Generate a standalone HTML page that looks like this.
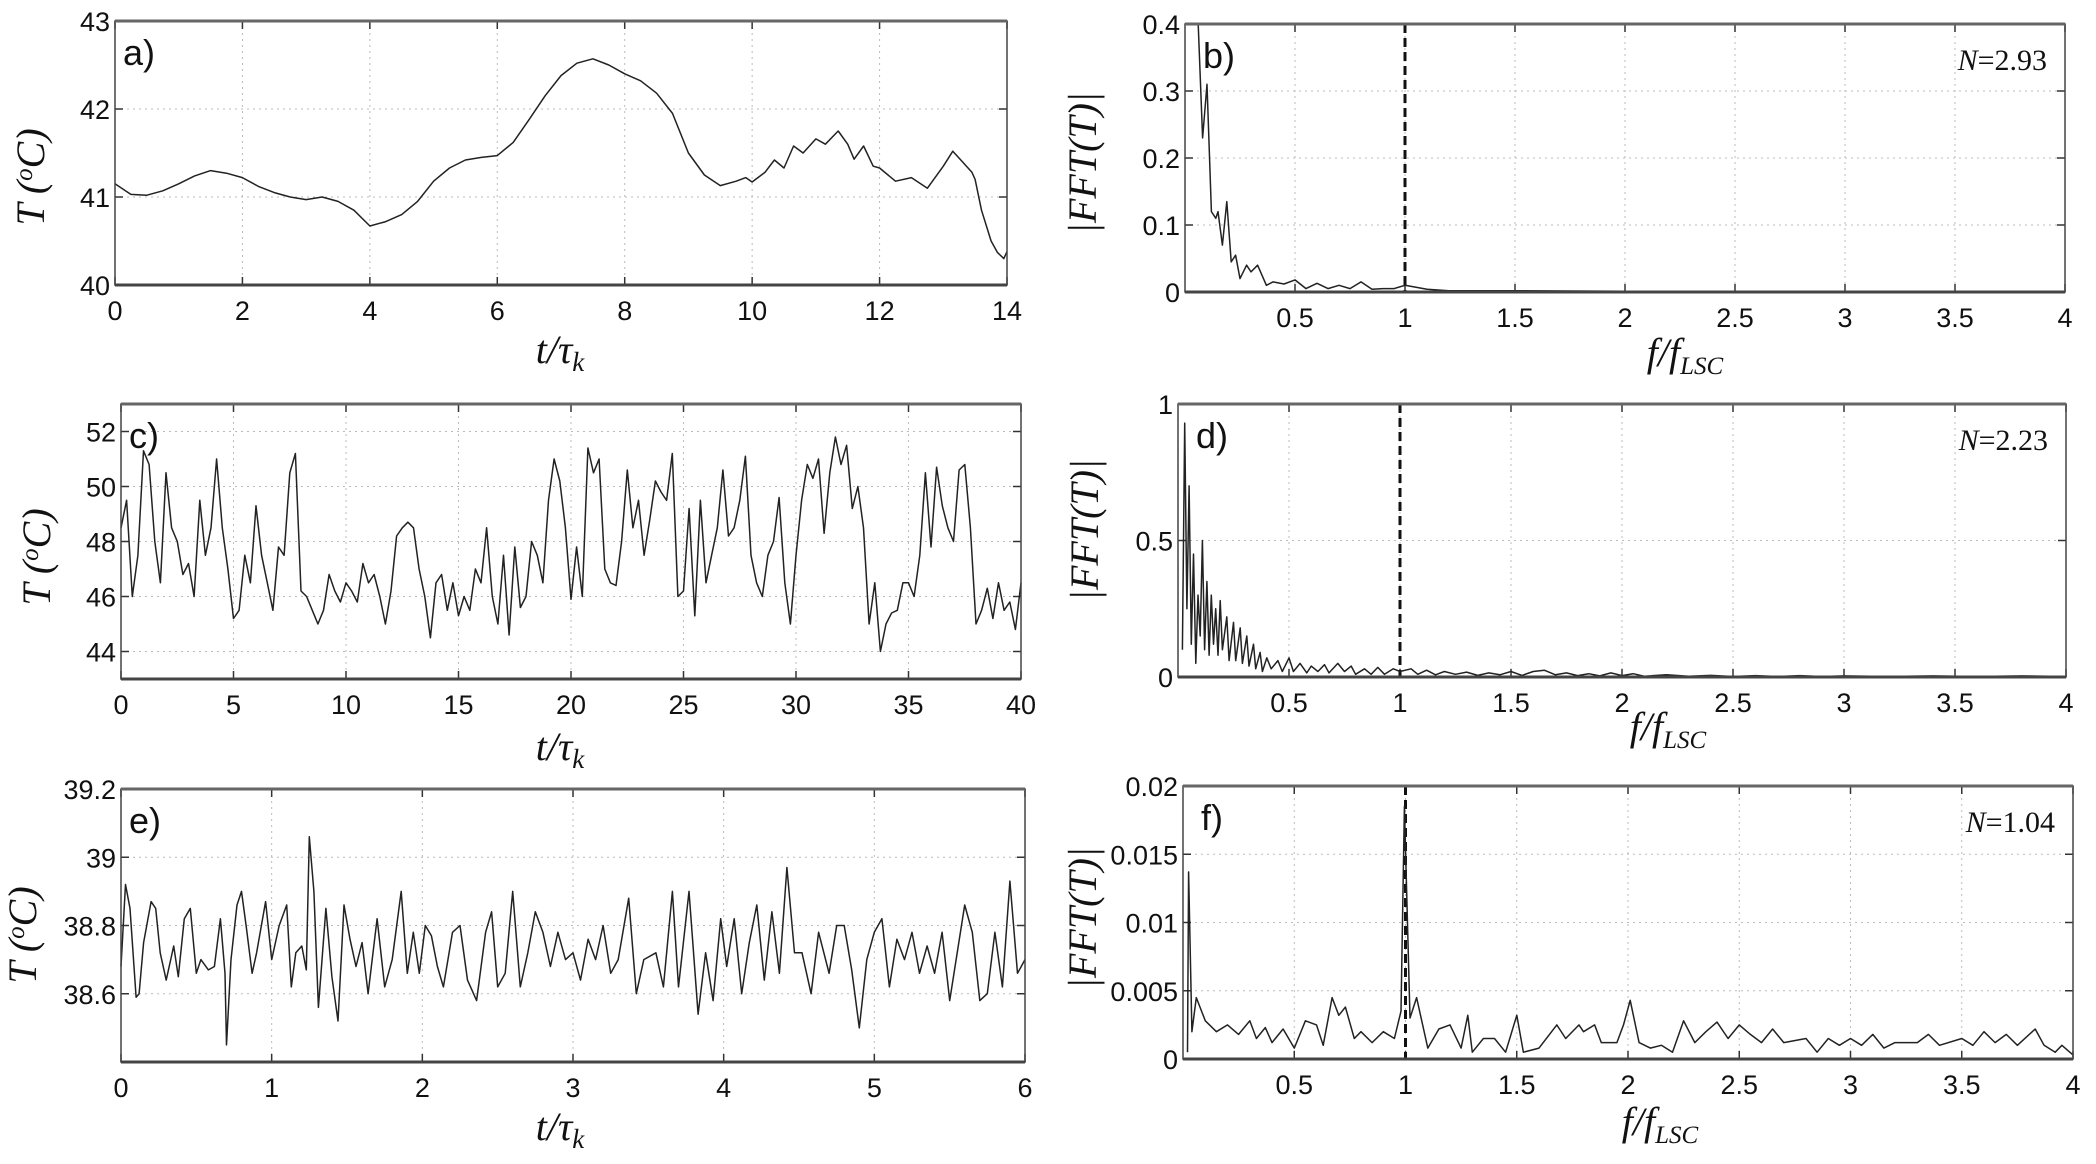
<!DOCTYPE html>
<html><head><meta charset="utf-8"><style>
html,body{margin:0;padding:0;background:#fff;}
svg{display:block;}
.tick{font-family:"Liberation Sans",sans-serif;font-size:27px;fill:#111;}
.lab{font-family:"Liberation Serif",serif;font-style:italic;font-size:40px;fill:#111;}
.pl{font-family:"Liberation Sans",sans-serif;font-size:36px;fill:#111;}
.nn{font-family:"Liberation Serif",serif;font-size:30px;fill:#111;}
</style></head><body>
<svg id="fig" width="2096" height="1164" viewBox="0 0 2096 1164"></svg>
<script>
// Panel a
const tA=[0,0.25,0.5,0.75,1,1.25,1.5,1.75,2,2.25,2.5,2.75,3,3.25,3.5,3.75,4,4.25,4.5,4.75,5,5.25,5.5,5.75,6,6.25,6.5,6.75,7,7.25,7.5,7.75,8,8.25,8.5,8.75,9,9.25,9.5,9.75,9.9,10,10.2,10.35,10.5,10.65,10.8,11,11.15,11.35,11.5,11.6,11.75,11.9,12,12.25,12.5,12.75,13,13.15,13.3,13.45,13.5,13.6,13.75,13.85,13.95,14];
const TA=[41.15,41.03,41.02,41.07,41.15,41.24,41.3,41.27,41.22,41.12,41.05,41.0,40.97,41.0,40.95,40.85,40.67,40.72,40.8,40.95,41.18,41.33,41.42,41.45,41.47,41.62,41.88,42.15,42.38,42.52,42.57,42.5,42.4,42.32,42.18,41.95,41.5,41.25,41.13,41.18,41.22,41.17,41.28,41.42,41.33,41.58,41.5,41.66,41.6,41.75,41.6,41.43,41.58,41.35,41.33,41.18,41.22,41.1,41.35,41.52,41.4,41.28,41.2,40.85,40.5,40.37,40.3,40.38];
// Panel c (uniform sampling over 0..40)
const TC=[48.5,49.5,46,47.5,51.3,50.8,48,46.5,50.5,48.5,48,46.8,47.2,46,49.5,47.5,48.5,51,48.5,47,
45.2,45.5,47.5,46.5,49.3,47.5,46.5,45.5,47.8,47.5,50.5,51.2,46.2,46,45.5,45,45.5,46.8,46.2,45.8,
46.5,46.2,45.8,47.2,46.5,46.8,46,45,46.2,48.2,48.5,48.7,48.5,47,46,44.5,46.5,46.8,45.5,46.5,45.3,46,45.5,47,46.5,48.5,46,45,47.5,44.6,47.8,45.6,46,48,47.5,46.5,49.5,51,50.2,48.5,45.9,47.8,46,51.4,50.5,51,47,46.5,46.4,48,50.6,48.5,49.5,47.5,48.8,50.2,49.8,49.5,51.2,46,46.2,49.2,45.3,49.5,46.5,47.5,48.5,50.6,48.2,48.5,49.5,51.1,47.5,46.5,46,47.5,48,49.6,46.5,45,47.5,49.5,50.8,50.3,51,48.3,50.5,51.8,50.8,51.5,49.2,50,48.5,45,46.5,44,45,45.4,45.5,46.5,46.5,46,47.5,50.5,47.8,50.7,49.3,48.5,48,50.6,50.8,48.5,45,45.5,46.3,45.2,46.5,45.5,45.8,44.8,46.5];
// Panel e
const tE=[0,0.03,0.06,0.1,0.12,0.15,0.2,0.23,0.26,0.3,0.35,0.38,0.42,0.46,0.5,0.53,0.58,0.62,0.66,0.69,0.7,0.73,0.77,0.8,0.83,0.87,0.9,0.96,1.0,1.05,1.1,1.13,1.16,1.2,1.23,1.25,1.28,1.31,1.36,1.4,1.44,1.48,1.52,1.56,1.6,1.64,1.7,1.75,1.8,1.86,1.9,1.94,1.98,2.02,2.06,2.1,2.14,2.2,2.25,2.3,2.36,2.42,2.46,2.5,2.55,2.6,2.65,2.7,2.75,2.8,2.85,2.9,2.95,3.0,3.05,3.1,3.15,3.2,3.25,3.3,3.37,3.42,3.47,3.55,3.6,3.66,3.7,3.77,3.83,3.88,3.93,3.98,4.02,4.07,4.12,4.17,4.22,4.27,4.32,4.37,4.42,4.47,4.52,4.58,4.63,4.7,4.75,4.8,4.85,4.9,4.95,5.0,5.05,5.1,5.15,5.2,5.25,5.3,5.35,5.4,5.45,5.5,5.55,5.6,5.65,5.7,5.75,5.8,5.85,5.9,5.95,6.0];
const TE=[38.68,38.92,38.85,38.59,38.6,38.75,38.87,38.85,38.72,38.64,38.74,38.65,38.82,38.85,38.66,38.7,38.67,38.68,38.82,38.66,38.45,38.7,38.86,38.9,38.8,38.66,38.72,38.87,38.7,38.8,38.86,38.62,38.72,38.74,38.67,39.06,38.9,38.56,38.85,38.65,38.52,38.86,38.76,38.68,38.75,38.6,38.82,38.62,38.7,38.9,38.66,38.78,38.66,38.8,38.77,38.68,38.62,38.78,38.8,38.64,38.58,38.78,38.84,38.62,38.66,38.9,38.62,38.72,38.84,38.78,38.68,38.78,38.7,38.72,38.64,38.76,38.7,38.8,38.66,38.7,38.88,38.6,38.7,38.72,38.62,38.9,38.62,38.9,38.54,38.72,38.58,38.82,38.68,38.82,38.6,38.75,38.86,38.64,38.84,38.66,38.97,38.72,38.72,38.6,38.78,38.66,38.8,38.8,38.67,38.5,38.7,38.78,38.82,38.62,38.76,38.7,38.78,38.66,38.74,38.66,38.78,38.58,38.72,38.86,38.78,38.58,38.6,38.78,38.62,38.93,38.66,38.7];
// Panel b
const fB=[0.02,0.04,0.06,0.08,0.1,0.12,0.14,0.15,0.17,0.19,0.21,0.23,0.25,0.28,0.3,0.33,0.37,0.4,0.45,0.5,0.55,0.6,0.65,0.7,0.75,0.8,0.85,0.9,0.95,1.0,1.1,1.2,1.5,2,3,4];
const AB=[0.4,0.4,0.4,0.23,0.31,0.12,0.11,0.12,0.07,0.135,0.045,0.055,0.02,0.04,0.03,0.04,0.01,0.015,0.012,0.018,0.005,0.013,0.005,0.01,0.005,0.015,0.004,0.005,0.005,0.01,0.004,0.002,0.002,0.001,0.0005,0.0003];
// Panel d
const fD=[0.02,0.03,0.04,0.05,0.06,0.07,0.08,0.09,0.1,0.11,0.12,0.13,0.14,0.15,0.16,0.17,0.18,0.19,0.2,0.22,0.23,0.25,0.26,0.28,0.29,0.31,0.32,0.34,0.35,0.37,0.38,0.4,0.42,0.45,0.47,0.5,0.52,0.55,0.58,0.6,0.63,0.66,0.68,0.72,0.75,0.78,0.8,0.84,0.87,0.9,0.93,0.97,1.0,1.05,1.08,1.12,1.16,1.2,1.25,1.3,1.35,1.4,1.45,1.5,1.55,1.6,1.65,1.7,1.75,1.8,1.85,1.9,1.95,2.0,2.05,2.1,2.2,2.3,2.4,2.5,2.6,2.7,2.8,2.9,3.0,3.2,3.4,3.6,3.8,4.0];
const AD=[0.1,0.93,0.25,0.7,0.12,0.45,0.05,0.3,0.15,0.5,0.1,0.35,0.08,0.3,0.12,0.25,0.08,0.28,0.1,0.22,0.06,0.2,0.06,0.18,0.05,0.15,0.04,0.12,0.03,0.09,0.02,0.07,0.03,0.06,0.02,0.07,0.02,0.05,0.015,0.04,0.02,0.045,0.015,0.05,0.02,0.04,0.01,0.03,0.01,0.035,0.01,0.03,0.02,0.03,0.01,0.025,0.008,0.02,0.01,0.018,0.006,0.015,0.008,0.02,0.006,0.02,0.025,0.008,0.015,0.005,0.012,0.004,0.015,0.005,0.012,0.003,0.008,0.003,0.006,0.002,0.005,0.002,0.005,0.002,0.004,0.002,0.004,0.002,0.004,0.002];
// Panel f
const fF=[0.02,0.025,0.04,0.06,0.1,0.15,0.2,0.25,0.3,0.33,0.37,0.4,0.45,0.5,0.55,0.6,0.63,0.67,0.7,0.73,0.77,0.8,0.85,0.9,0.95,0.98,0.995,1.02,1.05,1.1,1.15,1.2,1.25,1.28,1.3,1.35,1.4,1.45,1.5,1.53,1.6,1.68,1.72,1.78,1.8,1.85,1.88,1.95,1.98,2.01,2.05,2.1,2.15,2.2,2.25,2.3,2.35,2.4,2.45,2.5,2.55,2.6,2.65,2.7,2.8,2.85,2.9,2.95,3.0,3.05,3.1,3.15,3.2,3.3,3.35,3.4,3.5,3.55,3.6,3.65,3.7,3.75,3.83,3.87,3.92,3.95,4.0];
const AF=[0.0005,0.0137,0.002,0.0045,0.0028,0.002,0.0025,0.0018,0.0028,0.0015,0.0023,0.0012,0.0022,0.0008,0.0028,0.0025,0.001,0.0045,0.0032,0.0038,0.0015,0.002,0.0012,0.002,0.0015,0.0035,0.0185,0.003,0.0045,0.0008,0.0022,0.0025,0.0008,0.0032,0.0005,0.0015,0.0015,0.0005,0.0032,0.0005,0.0008,0.0025,0.0015,0.0025,0.002,0.0025,0.0012,0.0012,0.0025,0.0043,0.0012,0.0008,0.001,0.0005,0.0028,0.0012,0.002,0.0027,0.0015,0.0025,0.0018,0.0012,0.0022,0.0012,0.0015,0.0005,0.0015,0.001,0.0015,0.001,0.0018,0.0008,0.0012,0.0012,0.0018,0.001,0.0015,0.001,0.002,0.0012,0.0018,0.001,0.0022,0.001,0.0005,0.001,0.0003];

const svg=document.getElementById('fig');
const NS='http://www.w3.org/2000/svg';
function mk(tag,attrs,parent){const e=document.createElementNS(NS,tag);for(const k in attrs)e.setAttribute(k,attrs[k]);(parent||svg).appendChild(e);return e;}

function panel(o){
  const g=mk('g',{});
  
  
  const sx=v=>o.L+(v-o.x0)/(o.x1-o.x0)*(o.R-o.L);
  const sy=v=>o.B-(v-o.y0)/(o.y1-o.y0)*(o.B-o.T);
  o.xt.forEach(v=>{const x=sx(v);
    if(v>o.x0&&v<o.x1){const gl=mk('line',{x1:x,x2:x,y1:o.T,y2:o.B,stroke:'#bbb','stroke-width':1,'stroke-dasharray':'2,4'},g);
      
      }
    mk('line',{x1:x,x2:x,y1:o.B,y2:o.B-8,stroke:'#333','stroke-width':1.5},g);
    mk('line',{x1:x,x2:x,y1:o.T,y2:o.T+8,stroke:'#333','stroke-width':1.5},g);
    const t=mk('text',{x:x,y:o.B+35,'text-anchor':'middle',class:'tick'},g);t.textContent=o.xl(v);
    
    
  });
  o.yt.forEach(v=>{const y=sy(v);
    if(v>o.y0&&v<o.y1){const gl=mk('line',{x1:o.L,x2:o.R,y1:y,y2:y,stroke:'#bbb','stroke-width':1,'stroke-dasharray':'2,4'},g);
      
      }
    mk('line',{x1:o.L,x2:o.L+8,y1:y,y2:y,stroke:'#333','stroke-width':1.5},g);
    mk('line',{x1:o.R,x2:o.R-8,y1:y,y2:y,stroke:'#333','stroke-width':1.5},g);
    const t=mk('text',{x:o.L-5,y:y+10,'text-anchor':'end',class:'tick'},g);t.textContent=o.yl(v);
    
    
  });
  if(o.dash){const x=sx(1);const d=mk('line',{x1:x,x2:x,y1:o.T,y2:o.B,stroke:'#111','stroke-width':3,'stroke-dasharray':'9,5'},g);
    
    }
  const xs=o.xs||o.ys.map((_,i)=>o.x0+i*(o.x1-o.x0)/(o.ys.length-1));
  let p='';xs.forEach((v,i)=>{const yv=Math.min(Math.max(o.ys[i],o.y0),o.y1);p+=(i?'L':'M')+sx(v).toFixed(1)+','+sy(yv).toFixed(1);});
  const s=mk('path',{d:p,fill:'none',stroke:'#222','stroke-width':1.5,'stroke-linejoin':'round'},g);
  
  
  const f=mk('rect',{x:o.L,y:o.T,width:o.R-o.L,height:o.B-o.T,fill:'none',stroke:'#444','stroke-width':1.5},g);
  
  
  mk('line',{x1:o.L,x2:o.R,y1:o.T,y2:o.T,stroke:'#666','stroke-width':3},g);
  mk('line',{x1:o.L,x2:o.R,y1:o.B,y2:o.B,stroke:'#444','stroke-width':3},g);
  const pl=mk('text',{x:o.L+8+(o.plx||0),y:o.T+44,class:'pl'},g);pl.textContent=o.letter;
  
  
  if(o.N){const n=mk('text',{x:o.R-18,y:o.T+46,'text-anchor':'end',class:'nn'},g);
    n.innerHTML='<tspan font-style="italic">N</tspan>='+o.N;
    
    }
  const xl=mk('text',{x:o.xlx,y:o.xly,'text-anchor':'middle',class:'lab'},g);xl.innerHTML=o.xlab;
  
  
  const yl=mk('text',{x:0,y:0,'text-anchor':'middle',class:'lab',transform:`translate(${o.ylx},${o.yly}) rotate(-90)`},g);yl.innerHTML=o.ylab;
  
  
}
const tLab='t/τ<tspan font-size="27" dy="8">k</tspan>';
const fLab='f/f<tspan font-size="25" dy="8">LSC</tspan>';
const TLab='T (<tspan font-size="25" dy="-12">o</tspan><tspan dy="12">C)</tspan>';
const FLab='|FFT(T)|';
const ticks=(a,b,s)=>{const r=[];for(let v=a;v<=b+1e-9;v+=s)r.push(Math.round(v*1000)/1000);return r;};
const fticks=ticks(0.5,4,0.5);
const fl=v=>String(v);

panel({name:'panel-a-temperature',L:115,R:1007,T:21,B:285,x0:0,x1:14,y0:40,y1:43,xt:ticks(0,14,2),yt:ticks(40,43,1),xl:fl,yl:fl,xs:tA,ys:TA,letter:'a)',xlab:tLab,xlx:560,xly:363,ylab:TLab,ylx:44,yly:177});
panel({name:'panel-b-spectrum',L:1185,R:2065,T:24,B:292,x0:0,x1:4,y0:0,y1:0.4,xt:fticks,yt:ticks(0,0.4,0.1),xl:fl,yl:fl,xs:fB,ys:AB,letter:'b)',N:'2.93',dash:true,xlab:fLab,xlx:1685,xly:366,ylab:FLab,ylx:1096,yly:163,plx:10});
panel({name:'panel-c-temperature',L:121,R:1021,T:404,B:679,x0:0,x1:40,y0:43,y1:53,xt:ticks(0,40,5),yt:ticks(44,52,2),xl:fl,yl:fl,ys:TC,letter:'c)',xlab:tLab,xlx:560,xly:760,ylab:TLab,ylx:50,yly:557});
panel({name:'panel-d-spectrum',L:1178,R:2066,T:404,B:677,x0:0,x1:4,y0:0,y1:1,xt:fticks,yt:[0,0.5,1],xl:fl,yl:fl,xs:fD,ys:AD,letter:'d)',N:'2.23',dash:true,xlab:fLab,xlx:1668,xly:740,ylab:FLab,ylx:1098,yly:530,plx:10});
panel({name:'panel-e-temperature',L:121,R:1025,T:789,B:1062,x0:0,x1:6,y0:38.4,y1:39.2,xt:ticks(0,6,1),yt:[38.6,38.8,39,39.2],xl:fl,yl:v=>String(v),xs:tE,ys:TE,letter:'e)',xlab:tLab,xlx:560,xly:1140,ylab:TLab,ylx:36,yly:935});
panel({name:'panel-f-spectrum',L:1183,R:2073,T:786,B:1059,x0:0,x1:4,y0:0,y1:0.02,xt:fticks,yt:[0,0.005,0.01,0.015,0.02],xl:fl,yl:fl,xs:fF,ys:AF,letter:'f)',N:'1.04',dash:true,xlab:fLab,xlx:1660,xly:1135,ylab:FLab,ylx:1096,yly:918,plx:10});
</script>
</body></html>
